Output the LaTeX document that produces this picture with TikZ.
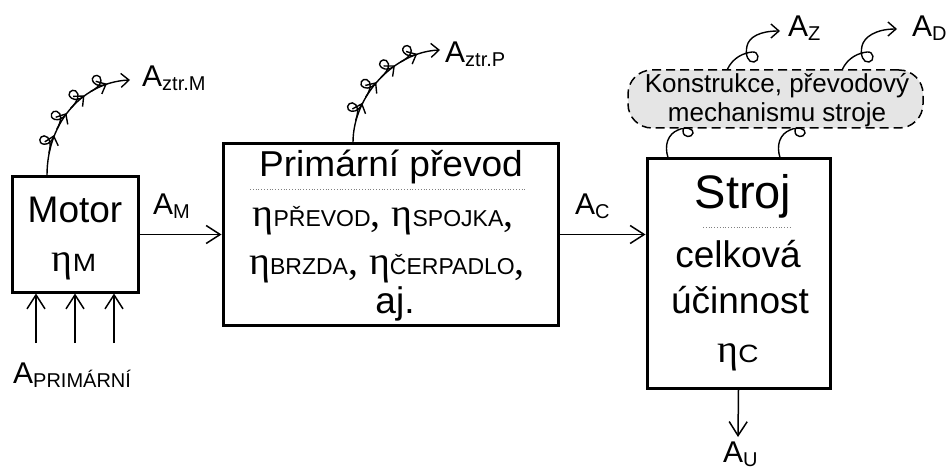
\documentclass[tikz,border=0pt]{standalone}
\usepackage{fontspec}
\setmainfont{Liberation Sans}
\newfontfamily\etafam{Liberation Serif}
\usetikzlibrary{arrows.meta,decorations.markings}
\newcommand\myfs[1]{\fontsize{#1}{#1}\selectfont}
\newcommand\myeta{{\etafam\myfs{40}η}}
\newcommand\ecomma{{\etafam\myfs{40},}}
\newcommand\capsub[1]{\scalebox{1.12}[1]{\myfs{25}#1}}
\newcommand\widesub[1]{{\myfs{23}#1}}
\newcommand\Asym[1]{{\myfs{30}A\raisebox{-4pt}{\myfs{20}#1}}}
\newcommand\curldraw{\draw[line width=1.4pt, line cap=round, scale=1.15]
   (-7,0) .. controls (1,0) and (7,-3) .. (6,-8) .. controls (5,-12) and (-2,-12) .. (-1,-6) .. controls (0,-2) and (4,0) .. (9,0);}
\pgfkeys{/pgf/decoration/curlat/.style={mark=at position #1 with {\curldraw}}}
\tikzset{
  box/.style={draw, line width=3pt, rectangle, inner sep=0pt},
  arr/.style={line width=1.5pt, -{Straight Barb[length=14pt,width=18pt,line width=1.5pt]}},
  tipsmall/.style={-{Straight Barb[length=8pt,width=14pt,line width=1.4pt]}},
  coilline/.style={line width=1.4pt, tipsmall, postaction={decorate},
    decoration={markings, curlat=0.22, curlat=0.40, curlat=0.58, curlat=0.76}},
  loopline/.style={line width=1.4pt},
  txt/.style={anchor=base, inner sep=0pt},
  sep/.style={gray, dotted, line width=0.8pt},
}
\begin{document}
\begin{tikzpicture}[x=1pt,y=-1pt]
\useasboundingbox (0,0) rectangle (948,473);
% boxes
\node[box, minimum width=126pt, minimum height=115pt] (motor) at (75,234.5) {};
\node[box, minimum width=335pt, minimum height=181pt] (prim) at (390.5,234.5) {};
\node[box, minimum width=183pt, minimum height=229pt] (stroj) at (738.5,273.5) {};
% motor texts
\node[txt] (tmotor) at (75,223) {\myfs{37}Motor};
\node[txt] (etam) at (74,272) {\myeta\capsub{M}};
% primarni texts
\node[txt] (tprim) at (391,177) {\scalebox{1.03}[1]{\myfs{36}Primární převod}};
\draw[sep] (250,189) -- (527,189);
\node[txt] (row1) at (383,227) {\myeta\widesub{PŘEVOD}\ecomma\hspace{11pt}\myeta\widesub{SPOJKA}\ecomma};
\node[txt] (row2) at (387,275) {\myeta\widesub{BRZDA}\ecomma\hspace{11pt}\myeta\widesub{ČERPADLO}\ecomma};
\node[txt] (aj) at (395,313) {\myfs{37}aj.};
% stroj texts
\node[txt] (tstroj) at (743,209) {\myfs{47}Stroj};
\draw[sep] (703,227) -- (791,227);
\node[txt] (cel) at (738,268) {\myfs{37}celková};
\node[txt] (ucin) at (740,313) {\myfs{37}účinnost};
\node[txt] (etac) at (738,362) {\myeta\capsub{C}};
% main arrows
\draw[arr] (motor.east) -- (prim.west);
\node[txt, anchor=base west] (am) at (153,215) {\Asym{M}};
\draw[arr] (prim.east) -- (prim.east -| stroj.west);
\node[txt, anchor=base west] (ac) at (575,215) {\Asym{C}};
\foreach \i/\x in {1/36,2/75,3/114}{
  \coordinate (in\i) at (\x,343);
  \draw[arr] (in\i) -- (in\i |- motor.south);
}
\node[txt, anchor=base west] (aprim) at (13,383) {\Asym{PRIMÁRNÍ}};
\coordinate (au) at (738,437);
\draw[arr] (stroj.south) -- (au);
\node[txt, anchor=base west] (aul) at (723,462) {\Asym{U}};
% loss coils
\coordinate (ztrm) at (130,80);
\draw[coilline] (motor.north -| 47,0) .. controls (47,120) and (85,82) .. (ztrm);
\node[txt, anchor=base west] (lztrm) at (142,87) {\Asym{ztr.M}};
\coordinate (ztrp) at (440,50);
\draw[coilline] (prim.north -| 353,0) .. controls (353,95) and (395,52) .. (ztrp);
\node[txt, anchor=base west] (lztrp) at (445,63) {\Asym{ztr.P}};
% coils to/from cloud (drawn under cloud)
\foreach \dx in {0,112}{
  \draw[loopline] (stroj.north -| 668+\dx,0) .. controls (664+\dx,145) and (668+\dx,134) .. (678+\dx,130)
     .. controls (686+\dx,126) and (694+\dx,129) .. (693+\dx,133)
     .. controls (692+\dx,138) and (683+\dx,138) .. (683+\dx,131)
     .. controls (683+\dx,124) and (690+\dx,118) .. (700+\dx,115);
}
\coordinate (az) at (780,31);
\coordinate (ad) at (897,29);
\draw[loopline, tipsmall] (727,80) -- (727,70) .. controls (733,57) and (744,53) .. (752,52)
  .. controls (759,51) and (760,61) .. (754,62)
  .. controls (748,63) and (745,55) .. (747,46)
  .. controls (749,37) and (760,31) .. (az);
\draw[loopline, tipsmall] (842,80) -- (842,70) .. controls (848,57) and (859,53) .. (867,52)
  .. controls (874,51) and (875,61) .. (869,62)
  .. controls (863,63) and (860,55) .. (862,46)
  .. controls (864,37) and (876,29) .. (ad);
\node[txt, anchor=base west] (laz) at (788,37) {\Asym{Z}};
\node[txt, anchor=base west] (lad) at (912,37) {\Asym{D}};
% cloud
\node[draw, dashed, dash pattern=on 9pt off 5pt, line width=1.5pt, fill=black!10,
  rounded corners=24pt, minimum width=295pt, minimum height=58pt, inner sep=0pt] (cloud) at (775.5,99) {};
\node[txt] (cl1) at (777,93) {\myfs{26}Konstrukce, převodový};
\node[txt] (cl2) at (777,122) {\myfs{26}mechanismu stroje};
\end{tikzpicture}
\end{document}
